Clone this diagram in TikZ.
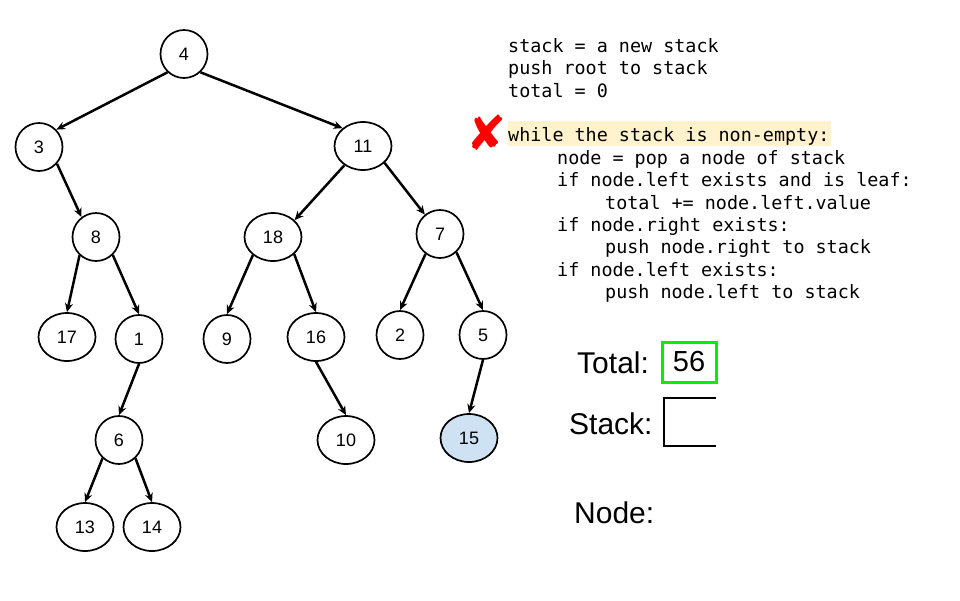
\documentclass[tikz,border=0pt]{standalone}
\usepackage{fontspec}
\setmainfont{Liberation Sans}
\newfontfamily\codefont{DejaVu Sans Mono}
\newfontfamily\symfont{DejaVu Sans}
\usetikzlibrary{shapes.geometric,arrows.meta}
\definecolor{hl}{HTML}{FFF2CC}
\definecolor{leafblue}{HTML}{CFE2F3}
\definecolor{boxgreen}{HTML}{00F000}
\definecolor{xred}{HTML}{FF0000}
\begin{document}
\begin{tikzpicture}[x=1pt,y=-1pt,
  tn/.style={ellipse,draw,line width=1.7pt,minimum width=47pt,minimum height=48pt,inner sep=0pt,font=\fontsize{18}{20}\selectfont},
  wide/.style={minimum width=57pt},
  edge/.style={line width=2.5pt,-{Stealth[length=9pt,width=8pt]}},
  code/.style={anchor=base west,inner sep=0pt,font=\codefont\fontsize{18.4}{20}\selectfont},
  lbl/.style={anchor=base west,inner sep=0pt,font=\fontsize{30}{32}\selectfont}]
\useasboundingbox[fill=white] (0,0) rectangle (960,600);
% tree
\node[tn] (n4) at (184,54) {4};
\node[tn] (n3) at (39,147) {3};
\node[tn,wide] (n11) at (363,146) {11};
\node[tn] (n8) at (96,237) {8};
\node[tn,wide] (n18) at (273,237) {18};
\node[tn] (n7) at (440,234) {7};
\node[tn,wide] (n17) at (67,337) {17};
\node[tn] (n1) at (139,339) {1};
\node[tn] (n9) at (227,339) {9};
\node[tn,wide] (n16) at (316,337) {16};
\node[tn] (n2) at (400,335) {2};
\node[tn] (n5) at (483,335) {5};
\node[tn] (n6) at (119,440) {6};
\node[tn,wide] (n10) at (346,440) {10};
\node[tn,wide,fill=leafblue] (n15) at (469,438) {15};
\node[tn,wide] (n13) at (85,527) {13};
\node[tn,wide] (n14) at (152,527) {14};
\draw[edge] (n4.228) -- (n3.45);
\draw[edge] (n4.312) -- (n11.139);
\draw[edge] (n3.317) -- (n8.126);
\draw[edge] (n11.226) -- (n18.38);
\draw[edge] (n11.322) -- (n7.128);
\draw[edge] (n8.228) -- (n17.north);
\draw[edge] (n8.313) -- (n1.north);
\draw[edge] (n18.222) -- (n9.north);
\draw[edge] (n18.321) -- (n16.north);
\draw[edge] (n7.234) -- (n2.north);
\draw[edge] (n7.312) -- (n5.north);
\draw[edge] (n1.south) -- (n6.north);
\draw[edge] (n16.south) -- (n10.north);
\draw[edge] (n5.south) -- (n15.north);
\draw[edge] (n6.228) -- (n13.north);
\draw[edge] (n6.312) -- (n14.north);
% code
\fill[hl] (508,121) rectangle (831,146);
\node[code] (c1) at (508,52.7) {stack = a new stack};
\node[code] (c2) at (508,74.9) {push root to stack};
\node[code] (c3) at (508,97) {total = 0};
\node[code] (c4) at (508,141.7) {while the stack is non-empty:};
\node[code] (c5) at (557,164.3) {node = pop a node of stack};
\node[code] (c6) at (557,186.7) {if node.left exists and is leaf:};
\node[code] (c7) at (605,209) {total += node.left.value};
\node[code] (c8) at (557,231.3) {if node.right exists:};
\node[code] (c9) at (605,253.7) {push node.right to stack};
\node[code] (c10) at (557,276) {if node.left exists:};
\node[code] (c11) at (605,298.3) {push node.left to stack};
\node[text=xred,inner sep=0pt,font=\symfont\fontsize{48}{48}\selectfont] (xmark) at (487,133) {✘};
% state
\node[lbl] (ltotal) at (577,373) {Total:};
\node[draw=boxgreen,line width=3pt,minimum width=54pt,minimum height=40pt,inner sep=0pt,font=\fontsize{29}{31}\selectfont] (tot) at (689,362) {56};
\node[lbl] (lstack) at (569,434) {Stack:};
\draw[line width=1.5pt] (716,398) -- (664,398) -- (664,446) -- (716,446);
\node[lbl] (lnode) at (574,523) {Node:};
\end{tikzpicture}
\end{document}
